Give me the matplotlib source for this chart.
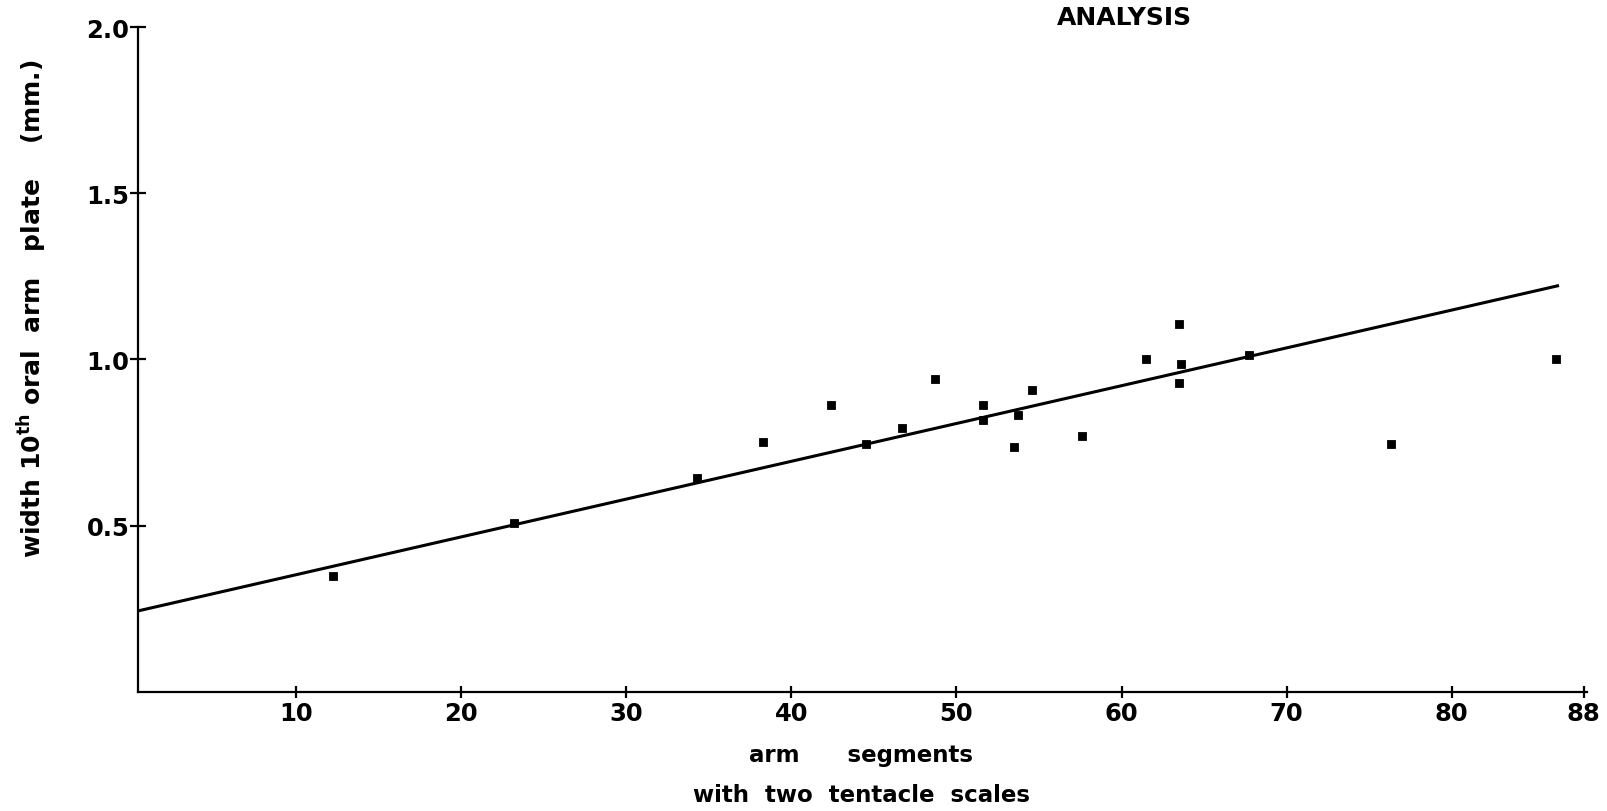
import matplotlib
matplotlib.use("Agg")
import matplotlib.pyplot as plt
import numpy as np

# arm segments with two tentacle scales vs width of 10th oral arm plate (mm)
segments = [12.2, 23.2, 34.3, 38.3, 42.4, 44.5, 46.7, 48.7, 51.6, 51.6, 53.5,
            53.7, 54.6, 57.6, 61.5, 63.5, 63.6, 63.5, 67.7, 76.3, 86.3]
width = [0.348, 0.508, 0.644, 0.751, 0.862, 0.745, 0.795, 0.942, 0.862, 0.819, 0.736,
         0.832, 0.908, 0.770, 1.001, 1.108, 0.985, 0.930, 1.013, 0.745, 1.001]

# regression line as drawn
fit_intercept = 0.239
fit_slope = 0.01137
fit_range = [0.4, 86.5]

xticks = [10, 20, 30, 40, 50, 60, 70, 80, 88]
yticks = [0.5, 1.0, 1.5, 2.0]

plt.rcParams['font.family'] = 'DejaVu Sans'
plt.rcParams['mathtext.default'] = 'bf'

fig = plt.figure(figsize=(16.07, 8.12), dpi=100)
ax = fig.add_axes([0.0857, 0.1466, 0.9019, 0.8189])

fx = np.array(fit_range)
ax.plot(fx, fit_intercept + fit_slope * fx, color='black', lw=2.2, solid_capstyle='butt')
ax.plot(segments, width, linestyle='none', marker='s', markersize=5.5,
        color='black', markeredgewidth=0.6)

ax.set_xlim(0.4, 88.2)
ax.set_ylim(0, 2.0)
ax.set_xticks(xticks)
ax.set_yticks(yticks)
ax.set_yticklabels(['0.5', '1.0', '1.5', '2.0'])
ax.tick_params(axis='both', direction='inout', width=1.6, labelsize=17.5)
ax.tick_params(axis='x', length=9, pad=2)
ax.tick_params(axis='y', length=12, pad=0)
for lab in ax.get_xticklabels() + ax.get_yticklabels():
    lab.set_fontweight('bold')

ax.spines['top'].set_visible(False)
ax.spines['right'].set_visible(False)
ax.spines['left'].set_linewidth(1.6)
ax.spines['bottom'].set_linewidth(1.6)

ax.set_ylabel(r'width $\mathregular{10}^{th}$ oral  arm   plate    (mm.)', fontsize=18,
              fontweight='bold')
ax.yaxis.set_label_coords(-0.061, 0.577)
fig.text(0.536, 0.070, 'arm      segments', ha='center', va='center',
         fontsize=16.5, fontweight='bold')
fig.text(0.536, 0.020, 'with  two  tentacle  scales', ha='center', va='center',
         fontsize=16.5, fontweight='bold')
fig.text(0.700, 0.978, 'ANALYSIS', ha='center', va='center',
         fontsize=18, fontweight='bold')

fig.savefig('out.png', dpi=100)
